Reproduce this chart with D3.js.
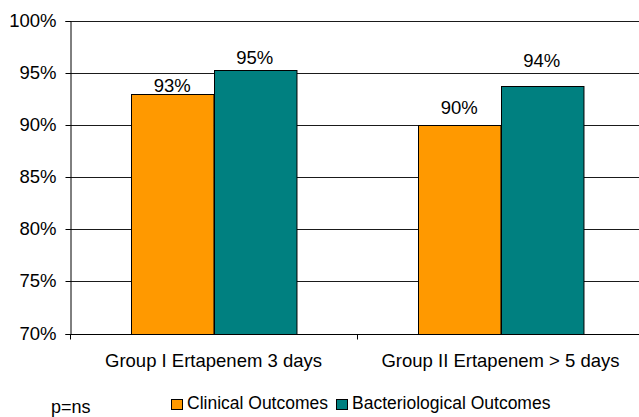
<!DOCTYPE html>
<html>
<head>
<meta charset="utf-8">
<script src="https://cdn.jsdelivr.net/npm/d3@7"></script>
<style>
  html, body { margin: 0; padding: 0; background: #fff; }
  svg { display: block; font-family: "Liberation Sans", Arial, sans-serif; }
</style>
</head>
<body>
<svg id="chart" width="639" height="417"></svg>
<script>
// ---- data ----
const categories = ["Group I Ertapenem 3 days", "Group II Ertapenem > 5 days"];
const seriesNames = ["Clinical Outcomes", "Bacteriological Outcomes"];
const clinical = [0.930, 0.900];
const bacteriological = [0.953, 0.937];
const yTicks = [0.70, 0.75, 0.80, 0.85, 0.90, 0.95, 1.00];
const note = "p=ns";

// ---- layout / style (not data) ----
const colors = ["#FF9900", "#008080"];
const labelLift = [[1.5, 5.5], [11, 19.5]]; // px above bar top, per category/series

const svg = d3.select("#chart");
const plotLeft = 70, plotRight = 644, plotTop = 20.5, plotBottom = 333.5;

const x0 = d3.scaleBand().domain(categories).range([plotLeft, plotRight]).padding(0);
const x1 = d3.scaleBand().domain(seriesNames).range([0, x0.bandwidth()])
  .paddingInner(0).paddingOuter(0.74);
const y = d3.scaleLinear().domain([0.70, 1.00]).range([plotBottom, plotTop]);

const values = [clinical, bacteriological];
const rows = [];
categories.forEach((c, ci) => {
  seriesNames.forEach((s, si) => {
    rows.push({ c, ci, s, si, v: values[si][ci] });
  });
});

// gridlines
svg.append("g").selectAll("line").data(yTicks.filter(t => t > 0.70)).join("line")
  .attr("x1", plotLeft).attr("x2", plotRight)
  .attr("y1", d => Math.round(y(d)) + 0.5).attr("y2", d => Math.round(y(d)) + 0.5)
  .attr("stroke", "#1a1a1a").attr("stroke-width", 1);

// bars
svg.append("g").selectAll("rect").data(rows).join("rect")
  .attr("x", d => Math.round(x0(d.c) + x1(d.s)) + 0.5)
  .attr("y", d => Math.round(y(d.v)) + 0.5)
  .attr("width", x1.bandwidth())
  .attr("height", d => Math.round(y(0.70)) - Math.round(y(d.v)))
  .attr("fill", d => colors[d.si])
  .attr("stroke", "#000").attr("stroke-width", 1);

// data labels
svg.append("g").selectAll("text").data(rows).join("text")
  .attr("x", d => x0(d.c) + x1(d.s) + x1.bandwidth() / 2)
  .attr("y", d => y(d.v) - labelLift[d.ci][d.si])
  .attr("text-anchor", "middle")
  .attr("font-size", "18.5px").attr("fill", "#000")
  .text(d => d3.format(".0%")(d.v));

// y axis
const yAxis = d3.axisLeft(y).tickValues(yTicks).tickFormat(d3.format(".0%"))
  .tickSize(5).tickPadding(9);
const gy = svg.append("g").attr("transform", `translate(${plotLeft + 0.5},0.5)`).call(yAxis);
gy.select(".domain").attr("stroke", "#000");
gy.selectAll(".tick line").attr("stroke", "#000");
gy.selectAll(".tick text").attr("font-size", "18.5px").attr("fill", "#000")
  .attr("font-family", "Liberation Sans, Arial, sans-serif");
gy.selectAll(".tick").attr("transform", d => `translate(0,${Math.round(y(d))})`);

// x axis
const xAxis = d3.axisBottom(x0).tickSize(0).tickPadding(19);
const gx = svg.append("g").attr("transform", `translate(0,${Math.round(y(0.70)) + 0.5})`).call(xAxis);
gx.select(".domain").attr("stroke", "#000").attr("d", `M${plotLeft},0H${plotRight}`);
gx.selectAll(".tick text").attr("font-size", "18.5px").attr("fill", "#000")
  .attr("font-family", "Liberation Sans, Arial, sans-serif");
// category separator ticks
gx.append("g").selectAll("line").data(categories).join("line")
  .attr("x1", d => Math.round(x0(d)) + 0.5).attr("x2", d => Math.round(x0(d)) + 0.5)
  .attr("y1", 0).attr("y2", 5).attr("stroke", "#000");

// legend
const legendX = [171, 336];
const lg = svg.append("g").selectAll("g").data(seriesNames).join("g")
  .attr("transform", (d, i) => `translate(${legendX[i]},399)`);
lg.append("rect").attr("x", 0.5).attr("y", 0.5).attr("width", 11).attr("height", 10)
  .attr("fill", (d, i) => colors[i]).attr("stroke", "#000");
lg.append("text").attr("x", 16).attr("y", 9.5)
  .attr("font-size", "17.5px").attr("fill", "#000").text(d => d);

// note
svg.append("text").attr("x", 51).attr("y", 412.5)
  .attr("font-size", "18px").attr("fill", "#000").text(note);
</script>
</body>
</html>
